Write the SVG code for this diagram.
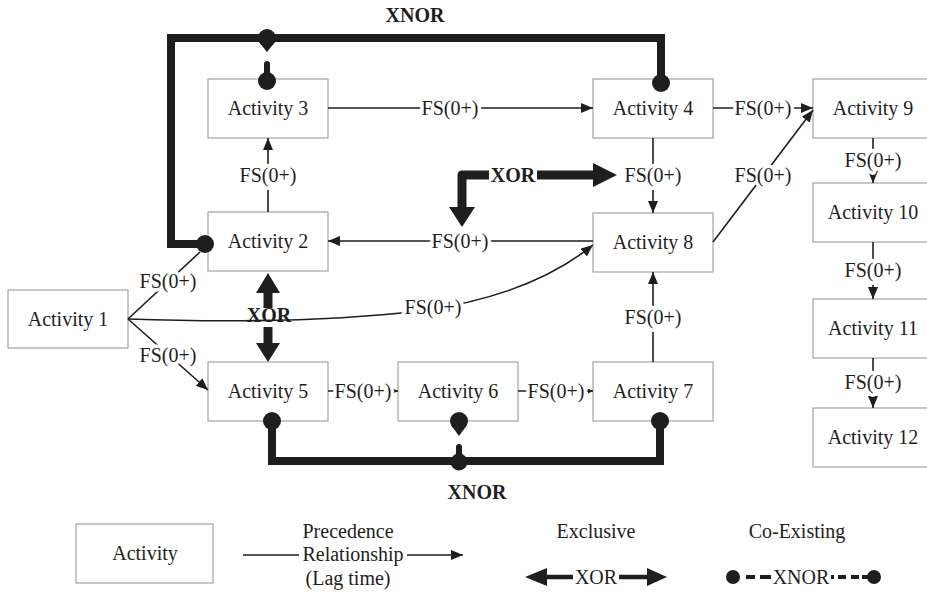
<svg xmlns="http://www.w3.org/2000/svg" width="927" height="592" viewBox="0 0 927 592" font-family="'Liberation Serif', 'DejaVu Serif', serif">
  <style>
    text { font-family: 'Liberation Serif', 'DejaVu Serif', serif; font-size: 20px; fill: #1e1e1e; text-anchor: middle; }
    .box { fill: #ffffff; stroke: #a3a3a3; stroke-width: 1.2; }
    .rel { stroke: #1e1e1e; stroke-width: 1.6; fill: none; }
    .arr { marker-end: url(#tip); }
    .lbl { stroke: #ffffff; stroke-width: 7; paint-order: stroke; stroke-linejoin: round; }
    .bold { font-weight: bold; }
    .thick { stroke: #1e1e1e; stroke-width: 8; fill: none; }
    .dot { fill: #1e1e1e; }
  </style>
  <defs>
    <marker id="tip" markerUnits="userSpaceOnUse" markerWidth="12" markerHeight="10" refX="12" refY="5" orient="auto">
      <path d="M0,0 L12,5 L0,10 Z" fill="#1e1e1e"/>
    </marker>
    <marker id="tiny" markerUnits="userSpaceOnUse" markerWidth="5" markerHeight="5" refX="5" refY="2.5" orient="auto">
      <path d="M0,0 L5,2.5 L0,5 Z" fill="#1e1e1e"/>
    </marker>
  </defs>

  <rect width="927" height="592" fill="#ffffff"/>

  <!-- activity boxes -->
  <g id="activity-1"><rect class="box" x="8" y="290" width="120" height="58"/><text x="68" y="326">Activity 1</text></g>
  <g id="activity-2"><rect class="box" x="208" y="212" width="120" height="59"/><text x="268" y="248">Activity 2</text></g>
  <g id="activity-3"><rect class="box" x="208" y="79" width="120" height="59"/><text x="268" y="115">Activity 3</text></g>
  <g id="activity-4"><rect class="box" x="593" y="79" width="120" height="59"/><text x="653" y="115">Activity 4</text></g>
  <g id="activity-5"><rect class="box" x="208" y="362" width="120" height="59"/><text x="268" y="398">Activity 5</text></g>
  <g id="activity-6"><rect class="box" x="398" y="362" width="120" height="59"/><text x="458" y="398">Activity 6</text></g>
  <g id="activity-7"><rect class="box" x="593" y="362" width="120" height="59"/><text x="653" y="398">Activity 7</text></g>
  <g id="activity-8"><rect class="box" x="593" y="213" width="120" height="59"/><text x="653" y="249">Activity 8</text></g>
  <g id="activity-9"><rect class="box" x="813" y="79" width="120" height="59"/><text x="873" y="115">Activity 9</text></g>
  <g id="activity-10"><rect class="box" x="813" y="183" width="120" height="59"/><text x="873" y="219">Activity 10</text></g>
  <g id="activity-11"><rect class="box" x="813" y="299" width="120" height="59"/><text x="873" y="335">Activity 11</text></g>
  <g id="activity-12"><rect class="box" x="813" y="408" width="120" height="59"/><text x="873" y="444">Activity 12</text></g>

  <!-- connectors -->
  <g id="connectors">
    <!-- precedence relationships -->
    <line class="rel" x1="128" y1="319" x2="200" y2="252"/>
    <line class="rel arr" x1="128" y1="319" x2="208" y2="390"/>
    <path class="rel arr" d="M128,319 Q300,325 420,311 Q530,296 593,245"/>
    <line class="rel arr" x1="268" y1="212" x2="268" y2="138"/>
    <line class="rel arr" x1="328" y1="108" x2="593" y2="108"/>
    <line class="rel arr" x1="713" y1="108" x2="813" y2="108"/>
    <line class="rel arr" x1="653" y1="138" x2="653" y2="213"/>
    <line class="rel arr" x1="593" y1="241" x2="328" y2="241"/>
    <line class="rel arr" x1="713" y1="242" x2="813" y2="110"/>
    <line class="rel arr" x1="653" y1="362" x2="653" y2="272"/>
    <line class="rel" x1="328" y1="391" x2="398" y2="391" marker-end="url(#tiny)"/>
    <line class="rel" x1="518" y1="391" x2="593" y2="391" marker-end="url(#tiny)"/>
    <line class="rel arr" x1="873" y1="138" x2="873" y2="183"/>
    <line class="rel arr" x1="873" y1="242" x2="873" y2="299"/>
    <line class="rel arr" x1="873" y1="358" x2="873" y2="408"/>

    <!-- lag labels -->
    <text class="lbl" x="168" y="288">FS(0+)</text>
    <text class="lbl" x="168" y="362">FS(0+)</text>
    <text class="lbl" x="433" y="314">FS(0+)</text>
    <text class="lbl" x="268" y="182">FS(0+)</text>
    <text class="lbl" x="450" y="115">FS(0+)</text>
    <text class="lbl" x="763" y="115">FS(0+)</text>
    <text class="lbl" x="653" y="182">FS(0+)</text>
    <text class="lbl" x="460" y="248">FS(0+)</text>
    <text class="lbl" x="763" y="182">FS(0+)</text>
    <text class="lbl" x="653" y="324">FS(0+)</text>
    <text class="lbl" x="363" y="398">FS(0+)</text>
    <text class="lbl" x="556" y="398">FS(0+)</text>
    <text class="lbl" x="873" y="167">FS(0+)</text>
    <text class="lbl" x="873" y="277">FS(0+)</text>
    <text class="lbl" x="873" y="389">FS(0+)</text>

    <!-- XNOR: activities 2, 3, 4 -->
    <path class="thick" d="M205,244 H171 V38 H661 V83"/>
    <circle class="dot" cx="205" cy="244" r="9"/>
    <circle class="dot" cx="661" cy="83" r="9"/>
    <circle class="dot" cx="267" cy="38" r="9"/>
    <path class="dot" d="M259,42 L275,42 L267,52 Z"/>
    <line x1="267" y1="64" x2="267" y2="78" stroke="#1e1e1e" stroke-width="6" stroke-linecap="round"/>
    <circle class="dot" cx="267" cy="81" r="9"/>
    <text class="bold" x="415" y="22">XNOR</text>

    <!-- XNOR: activities 5, 6, 7 -->
    <path class="thick" d="M272,421 V461 H660 V421"/>
    <circle class="dot" cx="272" cy="421" r="9"/>
    <circle class="dot" cx="660" cy="421" r="9"/>
    <circle class="dot" cx="459" cy="421" r="9"/>
    <path class="dot" d="M451,425 L467,425 L459,436 Z"/>
    <line x1="459" y1="447" x2="459" y2="458" stroke="#1e1e1e" stroke-width="6" stroke-linecap="round"/>
    <circle class="dot" cx="459" cy="462" r="8.5"/>
    <text class="bold" x="477" y="499">XNOR</text>

    <!-- XOR: activity 2 / activity 5 -->
    <line x1="268" y1="290" x2="268" y2="308" stroke="#1e1e1e" stroke-width="9"/>
    <path class="dot" d="M268,273 L280,293 L256,293 Z"/>
    <line x1="268" y1="327" x2="268" y2="345" stroke="#1e1e1e" stroke-width="9"/>
    <path class="dot" d="M268,362 L280,343 L256,343 Z"/>
    <text class="bold" x="269" y="322">XOR</text>

    <!-- XOR: 8 to 2 / 4 to 8 -->
    <path d="M462,209 V175 H489" stroke="#1e1e1e" stroke-width="9" fill="none" stroke-linejoin="round"/>
    <path class="dot" d="M462,227 L449,207 L475,207 Z"/>
    <line x1="537" y1="175" x2="595" y2="175" stroke="#1e1e1e" stroke-width="9"/>
    <path class="dot" d="M617,175 L593,163 L593,187 Z"/>
    <text class="bold" x="513" y="182">XOR</text>
  </g>

  <!-- legend -->
  <g id="legend">
    <g id="legend-activity"><rect class="box" x="76" y="524" width="137" height="59"/><text x="145" y="560">Activity</text></g>
    <g id="legend-precedence">
      <line class="rel" x1="243" y1="555" x2="299" y2="555"/>
      <line class="rel arr" x1="407" y1="555" x2="463" y2="555"/>
      <text x="348" y="538">Precedence</text>
      <text x="353" y="561">Relationship</text>
      <text x="348" y="585">(Lag time)</text>
    </g>
    <g id="legend-exclusive">
      <text x="596" y="538">Exclusive</text>
      <line x1="545" y1="577" x2="573" y2="577" stroke="#1e1e1e" stroke-width="4.5"/>
      <line x1="619" y1="577" x2="649" y2="577" stroke="#1e1e1e" stroke-width="4.5"/>
      <path class="dot" d="M525,577 L547,568 L547,586 Z"/>
      <path class="dot" d="M667,577 L647,568 L647,586 Z"/>
      <text x="596" y="584">XOR</text>
    </g>
    <g id="legend-coexisting">
      <text x="797" y="538">Co-Existing</text>
      <circle class="dot" cx="733" cy="577" r="7"/>
      <line x1="746" y1="577" x2="755" y2="577" stroke="#1e1e1e" stroke-width="4"/>
      <line x1="760" y1="577" x2="771" y2="577" stroke="#1e1e1e" stroke-width="4"/>
      <text x="801" y="584">XNOR</text>
      <line x1="831" y1="577" x2="834" y2="577" stroke="#1e1e1e" stroke-width="4"/>
      <line x1="838" y1="577" x2="846" y2="577" stroke="#1e1e1e" stroke-width="4"/>
      <line x1="851" y1="577" x2="859" y2="577" stroke="#1e1e1e" stroke-width="4"/>
      <line x1="862" y1="577" x2="870" y2="577" stroke="#1e1e1e" stroke-width="4"/>
      <circle class="dot" cx="874" cy="577" r="7"/>
    </g>
  </g>
</svg>
